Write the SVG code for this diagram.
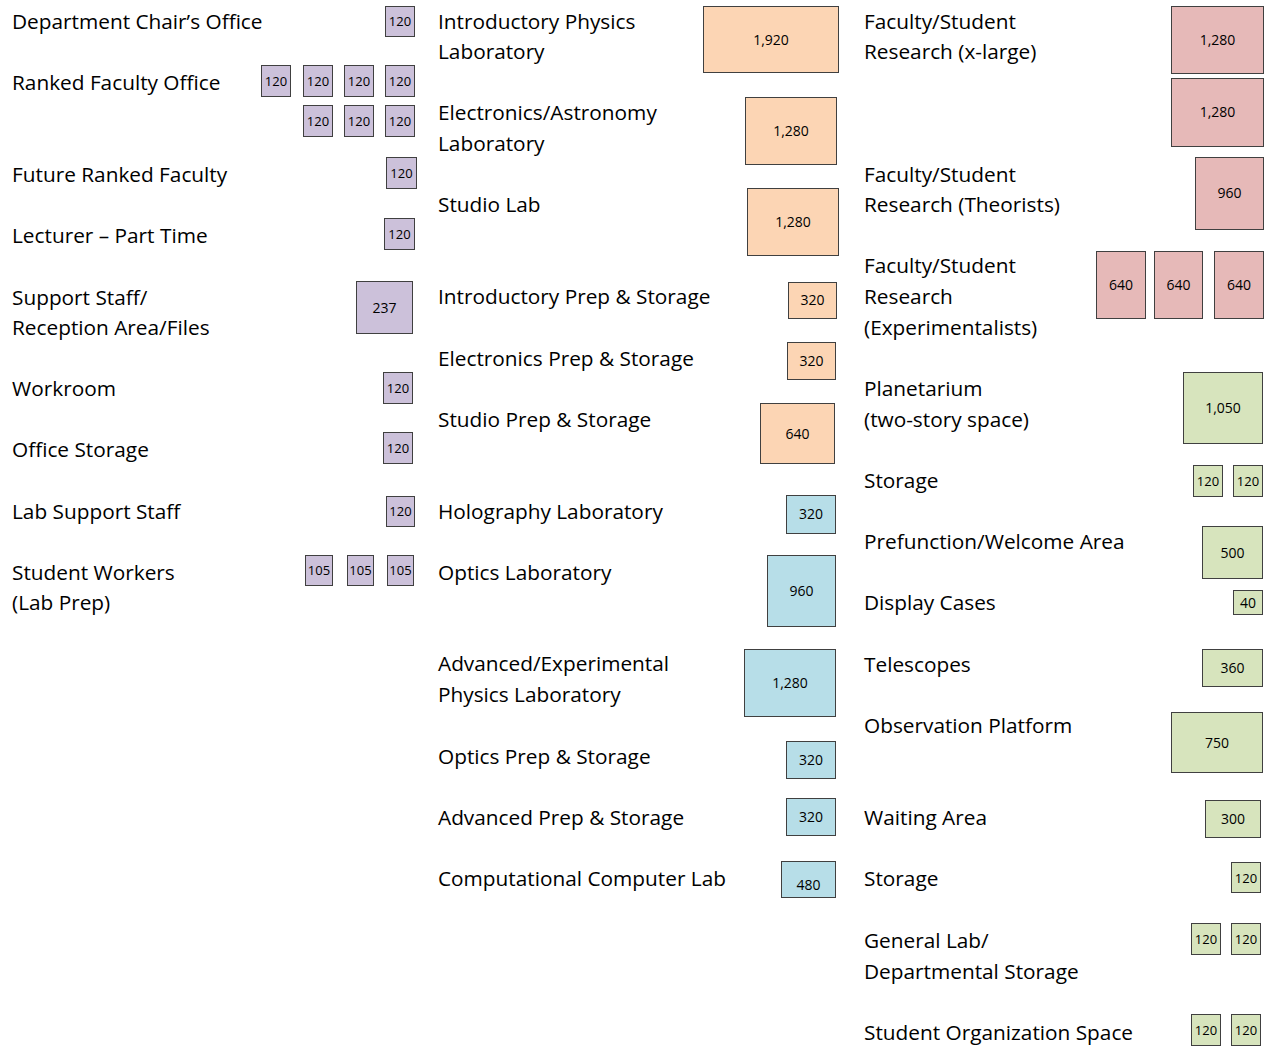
<svg xmlns="http://www.w3.org/2000/svg" width="1271" height="1046" viewBox="0 0 1271 1046">
<style>
.lbl{font-family:"Open Sans","Liberation Sans",sans-serif;font-size:20.8px;fill:#000}
.n{font-family:"Open Sans","Liberation Sans",sans-serif;font-size:14px;fill:#000;text-anchor:middle}
.s{font-size:13px}
rect{stroke:#404040;stroke-width:1}
.pu{fill:#ccc1da}
.or{fill:#fcd5b4}
.bl{fill:#b7dee8}
.rd{fill:#e6b9b8}
.gr{fill:#d7e4bd}
</style>
<rect x="0" y="0" width="1271" height="1046" style="fill:#fff;stroke:none"/>

<g id="col-office">
<g id="dept-chair">
<text class="lbl" x="12" y="28.5">Department Chair’s Office</text>
<rect class="pu" x="385.5" y="6.5" width="29" height="30"/><text class="n s" x="400" y="26">120</text>
</g>
<g id="ranked-faculty">
<text class="lbl" x="12" y="89.5">Ranked Faculty Office</text>
<rect class="pu" x="261.5" y="65.5" width="29" height="31"/><text class="n s" x="276" y="85.5">120</text>
<rect class="pu" x="303.5" y="65.5" width="29" height="31"/><text class="n s" x="318" y="85.5">120</text>
<rect class="pu" x="344.5" y="65.5" width="29" height="31"/><text class="n s" x="359" y="85.5">120</text>
<rect class="pu" x="385.5" y="65.5" width="29" height="31"/><text class="n s" x="400" y="85.5">120</text>
<rect class="pu" x="303.5" y="105.5" width="29" height="31"/><text class="n s" x="318" y="125.5">120</text>
<rect class="pu" x="344.5" y="105.5" width="29" height="31"/><text class="n s" x="359" y="125.5">120</text>
<rect class="pu" x="385.5" y="105.5" width="29" height="31"/><text class="n s" x="400" y="125.5">120</text>
</g>
<g id="future-ranked">
<text class="lbl" x="12" y="181.5">Future Ranked Faculty</text>
<rect class="pu" x="386.5" y="157.5" width="30" height="31"/><text class="n s" x="401.5" y="177.5">120</text>
</g>
<g id="lecturer">
<text class="lbl" x="12" y="243">Lecturer – Part Time</text>
<rect class="pu" x="384.5" y="218.5" width="30" height="31"/><text class="n s" x="399.5" y="238.5">120</text>
</g>
<g id="support-staff">
<text class="lbl" x="12" y="304.5">Support Staff/</text>
<text class="lbl" x="12" y="335">Reception Area/Files</text>
<rect class="pu" x="356.5" y="281.5" width="56" height="52"/><text class="n" x="384.5" y="312.5">237</text>
</g>
<g id="workroom">
<text class="lbl" x="12" y="396">Workroom</text>
<rect class="pu" x="383.5" y="372.5" width="29" height="31"/><text class="n s" x="398" y="392.5">120</text>
</g>
<g id="office-storage">
<text class="lbl" x="12" y="457">Office Storage</text>
<rect class="pu" x="383.5" y="432.5" width="29" height="31"/><text class="n s" x="398" y="452.5">120</text>
</g>
<g id="lab-support">
<text class="lbl" x="12" y="518.5">Lab Support Staff</text>
<rect class="pu" x="386.5" y="496.5" width="28" height="30"/><text class="n s" x="400.5" y="516">120</text>
</g>
<g id="student-workers">
<text class="lbl" x="12" y="579.5">Student Workers</text>
<text class="lbl" x="12" y="610">(Lab Prep)</text>
<rect class="pu" x="305.5" y="555.5" width="27" height="30"/><text class="n s" x="319" y="575">105</text>
<rect class="pu" x="347.5" y="555.5" width="26" height="30"/><text class="n s" x="360.5" y="575">105</text>
<rect class="pu" x="387.5" y="555.5" width="26" height="30"/><text class="n s" x="400.5" y="575">105</text>
</g>
</g>

<g id="col-labs">
<g id="intro-physics-lab">
<text class="lbl" x="438" y="28.5">Introductory Physics</text>
<text class="lbl" x="438" y="59">Laboratory</text>
<rect class="or" x="703.5" y="6.5" width="135" height="66"/><text class="n" x="771" y="44.5">1,920</text>
</g>
<g id="electronics-lab">
<text class="lbl" x="438" y="120">Electronics/Astronomy</text>
<text class="lbl" x="438" y="150.5">Laboratory</text>
<rect class="or" x="745.5" y="97.5" width="91" height="67"/><text class="n" x="791" y="135.5">1,280</text>
</g>
<g id="studio-lab">
<text class="lbl" x="438" y="212">Studio Lab</text>
<rect class="or" x="747.5" y="188.5" width="91" height="67"/><text class="n" x="793" y="226.5">1,280</text>
</g>
<g id="intro-prep">
<text class="lbl" x="438" y="304">Introductory Prep &amp; Storage</text>
<rect class="or" x="788.5" y="282.5" width="48" height="36"/><text class="n" x="812.5" y="305">320</text>
</g>
<g id="electronics-prep">
<text class="lbl" x="438" y="365.5">Electronics Prep &amp; Storage</text>
<rect class="or" x="787.5" y="342.5" width="48" height="37"/><text class="n" x="811.5" y="365.5">320</text>
</g>
<g id="studio-prep">
<text class="lbl" x="438" y="426.5">Studio Prep &amp; Storage</text>
<rect class="or" x="760.5" y="403.5" width="74" height="60"/><text class="n" x="797.5" y="438.5">640</text>
</g>
<g id="holography-lab">
<text class="lbl" x="438" y="518.5">Holography Laboratory</text>
<rect class="bl" x="786.5" y="495.5" width="49" height="38"/><text class="n" x="811" y="519">320</text>
</g>
<g id="optics-lab">
<text class="lbl" x="438" y="579.5">Optics Laboratory</text>
<rect class="bl" x="767.5" y="555.5" width="68" height="71"/><text class="n" x="801.5" y="595.5">960</text>
</g>
<g id="advanced-lab">
<text class="lbl" x="438" y="671">Advanced/Experimental</text>
<text class="lbl" x="438" y="702">Physics Laboratory</text>
<rect class="bl" x="744.5" y="649.5" width="91" height="67"/><text class="n" x="790" y="687.5">1,280</text>
</g>
<g id="optics-prep">
<text class="lbl" x="438" y="763.5">Optics Prep &amp; Storage</text>
<rect class="bl" x="786.5" y="741.5" width="49" height="37"/><text class="n" x="811" y="764.5">320</text>
</g>
<g id="advanced-prep">
<text class="lbl" x="438" y="825">Advanced Prep &amp; Storage</text>
<rect class="bl" x="786.5" y="798.5" width="49" height="37"/><text class="n" x="811" y="822">320</text>
</g>
<g id="computer-lab">
<text class="lbl" x="438" y="886">Computational Computer Lab</text>
<rect class="bl" x="781.5" y="861.5" width="54" height="36"/><text class="n" x="808.5" y="889.5">480</text>
</g>
</g>

<g id="col-research">
<g id="research-xlarge">
<text class="lbl" x="864" y="28.5">Faculty/Student</text>
<text class="lbl" x="864" y="59">Research (x-large)</text>
<rect class="rd" x="1171.5" y="6.5" width="92" height="67"/><text class="n" x="1217.5" y="44.5">1,280</text>
<rect class="rd" x="1171.5" y="78.5" width="92" height="68"/><text class="n" x="1217.5" y="116.5">1,280</text>
</g>
<g id="research-theorists">
<text class="lbl" x="864" y="181.5">Faculty/Student</text>
<text class="lbl" x="864" y="212">Research (Theorists)</text>
<rect class="rd" x="1195.5" y="157.5" width="68" height="72"/><text class="n" x="1229.5" y="198">960</text>
</g>
<g id="research-experimentalists">
<text class="lbl" x="864" y="273">Faculty/Student</text>
<text class="lbl" x="864" y="304">Research</text>
<text class="lbl" x="864" y="335">(Experimentalists)</text>
<rect class="rd" x="1096.5" y="251.5" width="49" height="67"/><text class="n" x="1121" y="289.5">640</text>
<rect class="rd" x="1154.5" y="251.5" width="48" height="67"/><text class="n" x="1178.5" y="289.5">640</text>
<rect class="rd" x="1214.5" y="251.5" width="49" height="67"/><text class="n" x="1239" y="289.5">640</text>
</g>
<g id="planetarium">
<text class="lbl" x="864" y="396">Planetarium</text>
<text class="lbl" x="864" y="426.5">(two-story space)</text>
<rect class="gr" x="1183.5" y="372.5" width="79" height="71"/><text class="n" x="1223" y="412.5">1,050</text>
</g>
<g id="storage-1">
<text class="lbl" x="864" y="488">Storage</text>
<rect class="gr" x="1193.5" y="465.5" width="29" height="31"/><text class="n s" x="1208" y="486">120</text>
<rect class="gr" x="1233.5" y="465.5" width="29" height="31"/><text class="n s" x="1248" y="486">120</text>
</g>
<g id="prefunction">
<text class="lbl" x="864" y="549">Prefunction/Welcome Area</text>
<rect class="gr" x="1202.5" y="526.5" width="60" height="52"/><text class="n" x="1232.5" y="557.5">500</text>
</g>
<g id="display-cases">
<text class="lbl" x="864" y="610">Display Cases</text>
<rect class="gr" x="1233.5" y="590.5" width="29" height="24"/><text class="n" x="1248" y="607.5">40</text>
</g>
<g id="telescopes">
<text class="lbl" x="864" y="671.5">Telescopes</text>
<rect class="gr" x="1202.5" y="649.5" width="60" height="37"/><text class="n" x="1232.5" y="672.5">360</text>
</g>
<g id="observation-platform">
<text class="lbl" x="864" y="733">Observation Platform</text>
<rect class="gr" x="1171.5" y="712.5" width="91" height="60"/><text class="n" x="1217" y="747.5">750</text>
</g>
<g id="waiting-area">
<text class="lbl" x="864" y="825">Waiting Area</text>
<rect class="gr" x="1205.5" y="800.5" width="55" height="37"/><text class="n" x="1233" y="823.5">300</text>
</g>
<g id="storage-2">
<text class="lbl" x="864" y="886">Storage</text>
<rect class="gr" x="1231.5" y="862.5" width="29" height="30"/><text class="n s" x="1246" y="882.5">120</text>
</g>
<g id="general-lab-storage">
<text class="lbl" x="864" y="948">General Lab/</text>
<text class="lbl" x="864" y="979">Departmental Storage</text>
<rect class="gr" x="1191.5" y="923.5" width="29" height="31"/><text class="n s" x="1206" y="944">120</text>
<rect class="gr" x="1231.5" y="923.5" width="29" height="31"/><text class="n s" x="1246" y="944">120</text>
</g>
<g id="student-org">
<text class="lbl" x="864" y="1039.5">Student Organization Space</text>
<rect class="gr" x="1191.5" y="1014.5" width="29" height="31"/><text class="n s" x="1206" y="1035">120</text>
<rect class="gr" x="1231.5" y="1014.5" width="29" height="31"/><text class="n s" x="1246" y="1035">120</text>
</g>
</g>
</svg>
